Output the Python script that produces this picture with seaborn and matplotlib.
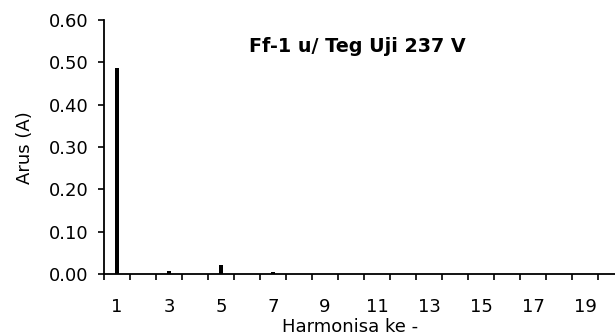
import matplotlib
matplotlib.use("Agg")
import matplotlib.pyplot as plt
import seaborn as sns
import pandas as pd
from matplotlib.ticker import FixedLocator, FormatStrFormatter

harmonics = list(range(1, 21))
current = [0.486, 0.0, 0.006, 0.0, 0.021, 0.0, 0.005, 0.0, 0.0, 0.0,
           0.0, 0.0, 0.0, 0.0, 0.0, 0.0, 0.0, 0.0, 0.0, 0.0]
y_ticks = [0.0, 0.1, 0.2, 0.3, 0.4, 0.5, 0.6]
title = "Ff-1 u/ Teg Uji 237 V"
xlabel = "Harmonisa ke -"
ylabel = "Arus (A)"

sns.set_style("white")
plt.rcParams['font.family'] = ['DejaVu Sans']
plt.rcParams['text.color'] = 'black'

W, H = 615, 335
fig = plt.figure(figsize=(W / 100, H / 100), dpi=100)
ax = fig.add_axes([104 / W, 61 / H, 520 / W, 254 / H])

df = pd.DataFrame({"h": [str(h) for h in harmonics], "a": current})
sns.barplot(data=df, x="h", y="a", color="black", width=0.16, ax=ax,
            saturation=1, linewidth=0)

ax.set_xlim(-0.5, len(harmonics) - 0.5)
ax.set_ylim(0, 0.6)
ax.set_yticks(y_ticks)
ax.yaxis.set_major_formatter(FormatStrFormatter("%.2f"))

ax.set_xticks(range(len(harmonics)))
ax.set_xticklabels([str(h) if h % 2 == 1 else "" for h in harmonics])
ax.xaxis.set_minor_locator(FixedLocator([i - 0.5 for i in range(len(harmonics) + 1)]))

for s in ["top", "right"]:
    ax.spines[s].set_visible(False)
for s in ["left", "bottom"]:
    ax.spines[s].set_linewidth(1.3)
    ax.spines[s].set_color("black")

ax.tick_params(axis="y", which="major", direction="out", length=4.3, width=1.2,
               pad=7, labelsize=13, colors="black", labelcolor="black", left=True)
ax.tick_params(axis="x", which="major", length=0, pad=17, labelsize=13,
               colors="black", labelcolor="black")
ax.tick_params(axis="x", which="minor", direction="out", length=4.3, width=1.2,
               colors="black", bottom=True)
ax.set_xlabel("")
ax.set_ylabel("")

fig.text(350 / W, 1 - 327 / H, xlabel, ha="center", va="center", fontsize=13, color="black")
fig.text(25 / W, 1 - 148 / H, ylabel, ha="center", va="center", rotation=90,
         fontsize=13, color="black")
fig.text(357 / W, 1 - 47 / H, title, ha="center", va="center", fontsize=13.8,
         fontweight="bold", color="black")

fig.savefig("out.png", dpi=100)
